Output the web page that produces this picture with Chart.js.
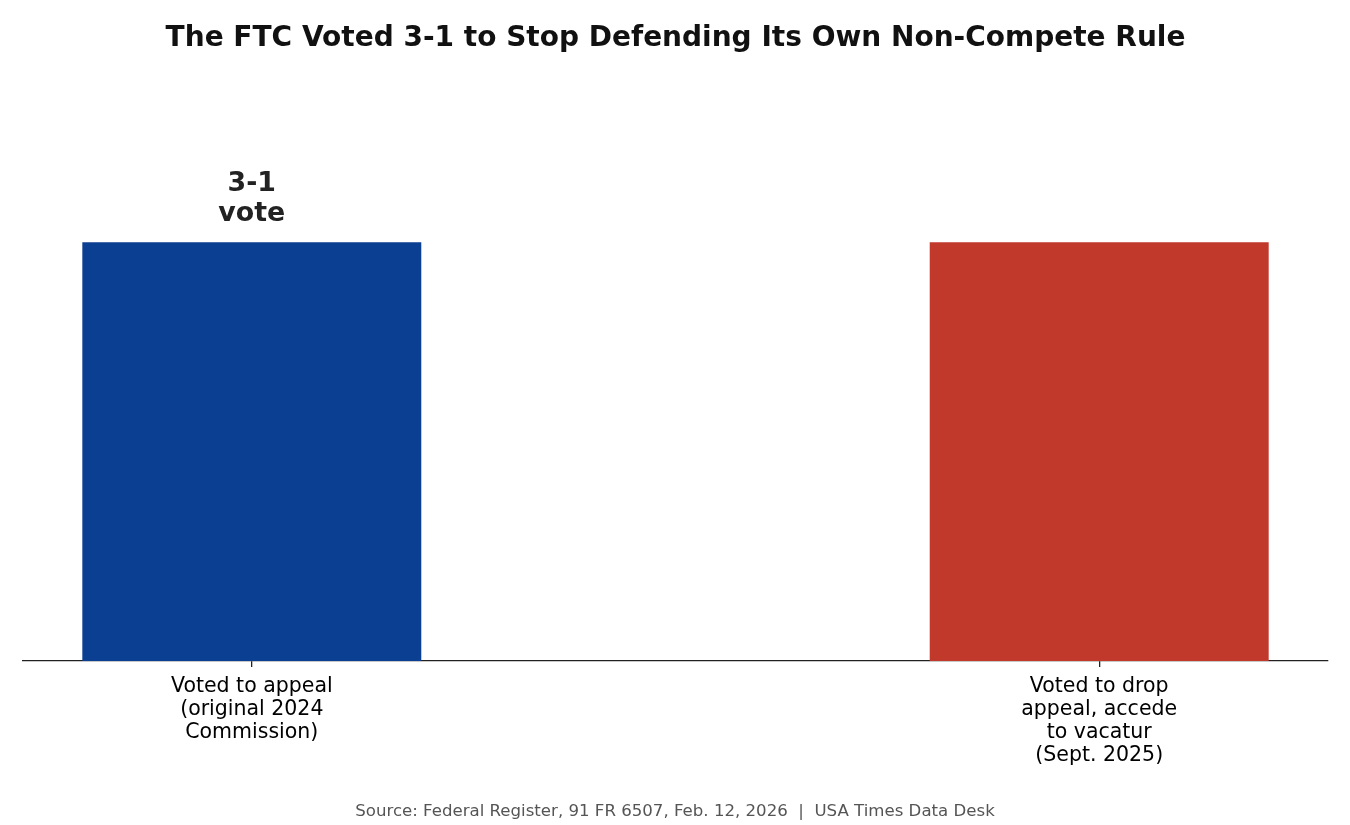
<!DOCTYPE html>
<html>
<head>
<meta charset="utf-8">
<title>FTC non-compete vote</title>
<script src="https://cdn.jsdelivr.net/npm/chart.js@4/dist/chart.umd.min.js"></script>
<style>
  html, body { margin: 0; padding: 0; background: #fff; }
  #wrap { width: 1350px; height: 825px; }
</style>
</head>
<body>
<div id="wrap"><canvas id="bars" width="1350" height="825"></canvas></div>
<script>
// chart data
const positions = [0, 1];
const categories = [
  ["Voted to appeal", "(original 2024", "Commission)"],
  ["Voted to drop", "appeal, accede", "to vacatur", "(Sept. 2025)"]
];
const votes = [3, 3];
const barLabels = [["3-1", "vote"], null];
const barColors = ["#0b3f91", "#c0392b"];

const titleText = "The FTC Voted 3-1 to Stop Defending Its Own Non-Compete Rule";
const sourceText = "Source: Federal Register, 91 FR 6507, Feb. 12, 2026  |  USA Times Data Desk";

// labels over bars + source line
const extras = {
  id: "extras",
  afterDatasetsDraw(chart) {
    const ctx = chart.ctx;
    const meta = chart.getDatasetMeta(0);
    ctx.save();
    ctx.fillStyle = "#222";
    ctx.font = "bold 26.8px 'DejaVu Sans'";
    ctx.textAlign = "center";
    ctx.textBaseline = "middle";
    meta.data.forEach((bar, i) => {
      const lines = barLabels[i];
      if (!lines) return;
      lines.forEach((txt, j) => {
        ctx.fillText(txt, bar.x, bar.y - 28 - (lines.length - 1 - j) * 30);
      });
    });
    ctx.fillStyle = "#555";
    ctx.font = "16.6px 'DejaVu Sans'";
    ctx.fillText(sourceText, chart.width / 2, 812);
    ctx.restore();
  }
};

const barConfig = {
  type: "bar",
  data: {
    datasets: [
      {
        data: positions.map((x, i) => ({ x: x, y: votes[i] })),
        backgroundColor: barColors,
        borderWidth: 0,
        categoryPercentage: 1,
        barPercentage: 0.4,
      },
    ],
  },
  options: {
    responsive: false,
    animation: false,
    devicePixelRatio: 1,
    layout: { padding: { left: 23, right: 22, top: 0, bottom: 44 } },
    plugins: {
      legend: { display: false },
      tooltip: { enabled: false },
      title: {
        display: true,
        text: titleText,
        color: "#111",
        font: { family: "DejaVu Sans", size: 28, weight: "bold", lineHeight: 1.2 },
        padding: { top: 21.5, bottom: 47.5 },
      },
    },
    scales: {
      x: {
        type: "linear",
        min: -0.27,
        max: 1.27,
        offset: false,
        afterBuildTicks: (axis) => {
          axis.ticks = positions.map((v) => ({ value: v }));
        },
        afterFit: (axis) => {
          axis.height = 120;
        },
        ticks: {
          autoSkip: false,
          maxRotation: 0,
          color: "#000",
          padding: 8,
          font: { family: "DejaVu Sans", size: 20.5, lineHeight: 1.12 },
          callback: (v) => categories[positions.indexOf(v)] || "",
        },
        grid: {
          display: true,
          offset: false,
          drawOnChartArea: false,
          drawTicks: true,
          tickLength: 6,
          color: "#222",
          lineWidth: 1.3,
        },
        border: { display: true, color: "#222", width: 1.3 },
      },
      y: {
        display: false,
        min: 0,
        max: 4,
      },
    },
  },
  plugins: [extras],
};

const barsCtx = document.getElementById("bars");
window.myBar = new Chart(barsCtx, barConfig);
</script>
</body>
</html>
